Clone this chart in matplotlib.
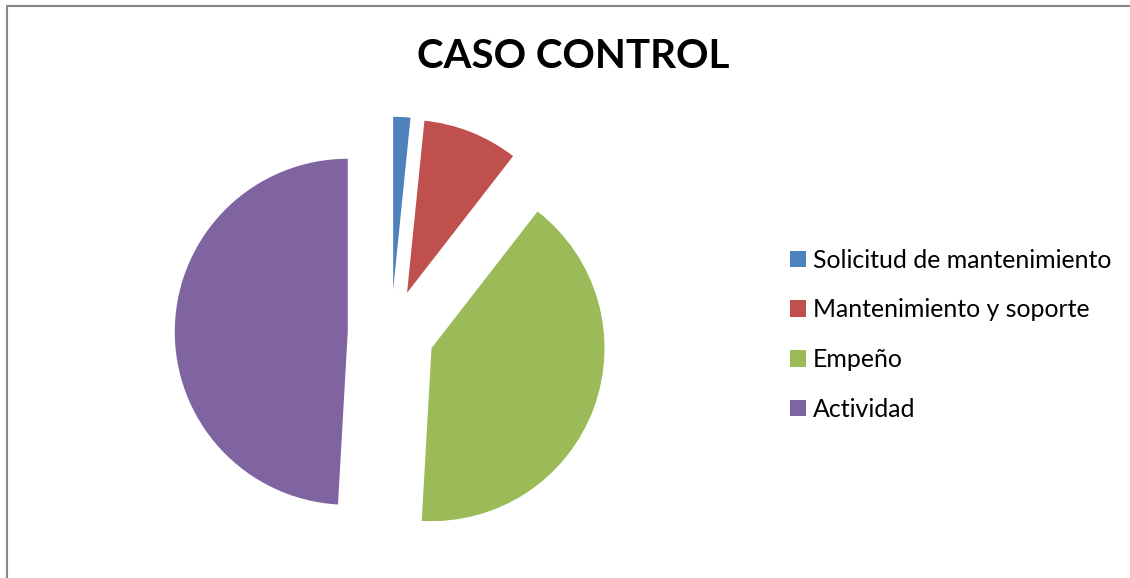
import matplotlib.pyplot as plt
from matplotlib.patches import Patch, Rectangle

categories = ['Solicitud de mantenimiento', 'Mantenimiento y soporte', 'Empeño', 'Actividad']
values = [1.6, 8.9, 40.4, 49.1]
colors = ['#4F81BD', '#C0504D', '#9BBB59', '#8064A2']

plt.rcParams['font.family'] = ['Lato', 'DejaVu Sans']

W, H = 1130, 578
fig = plt.figure(figsize=(W / 100, H / 100), dpi=100)

# chart area border (Excel style), right/bottom edges run off the image
fig.patches.append(Rectangle((6.5 / W, -10 / H), (W + 20) / W, (H - 5.5 + 10) / H,
                             transform=fig.transFigure, fill=False,
                             edgecolor='#868686', linewidth=1.5))

ax = fig.add_axes([0, 0, 1, 1])
ax.pie(values, colors=colors, startangle=90, counterclock=False,
       explode=[0.25] * len(values), radius=1)
cx, cy, r = 391, 333, 173
ax.set_xlim(-cx / r, (W - cx) / r)
ax.set_ylim(-(H - cy) / r, cy / r)
ax.set_aspect('auto')
ax.axis('off')

fig.text(573 / W, 1 - 56 / H, 'CASO CONTROL', ha='center', va='center',
         fontsize=29, fontweight='bold')

handles = [Patch(facecolor=c, edgecolor='none') for c in colors]
fig.legend(handles, categories, loc='center left', bbox_to_anchor=(0.699, 0.421),
           frameon=False, fontsize=17.9, handlelength=0.65, handleheight=0.65,
           handletextpad=0.28, labelspacing=1.07, borderpad=0, borderaxespad=0)

fig.savefig('out.png', dpi=100)
